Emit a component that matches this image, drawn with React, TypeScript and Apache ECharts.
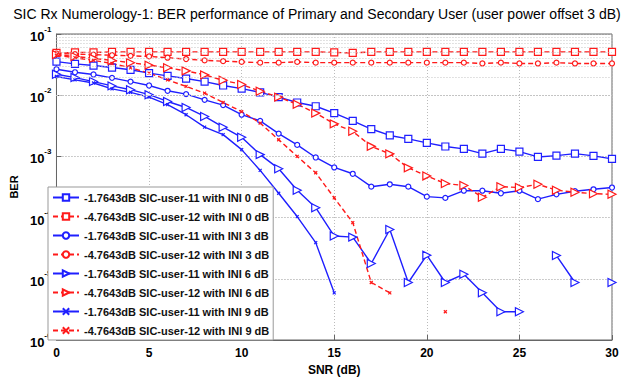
import React, { useEffect, useRef } from "react";
import * as echarts from "echarts";

const snr: number[] = Array.from({ length: 31 }, (_, i) => i);

const u11Ini0: (number | null)[] = [0.0354, 0.0325, 0.0305, 0.0283, 0.026, 0.0229, 0.0207, 0.0187, 0.0167, 0.0144, 0.0128, 0.0111, 0.0093, 0.0076, 0.0066, 0.0051, 0.0038, 0.0028, 0.0022, 0.00193, 0.00166, 0.00145, 0.00133, 0.00111, 0.00133, 0.0012, 0.00098, 0.00103, 0.00111, 0.00102, 0.00091];
const u12Ini0: (number | null)[] = [0.049, 0.05, 0.05, 0.051, 0.051, 0.051, 0.051, 0.051, 0.051, 0.051, 0.051, 0.051, 0.051, 0.051, 0.051, 0.05, 0.049, 0.051, 0.051, 0.051, 0.051, 0.051, 0.051, 0.051, 0.051, 0.051, 0.051, 0.051, 0.051, 0.051, 0.051];
const u11Ini3: (number | null)[] = [0.0266, 0.0237, 0.0218, 0.0192, 0.0167, 0.0144, 0.0118, 0.0104, 0.0084, 0.0069, 0.0048, 0.0038, 0.00236, 0.00154, 0.00096, 0.00066, 0.00052, 0.00032, 0.00035, 0.00032, 0.00022, 0.00021, 0.000275, 0.000275, 0.00025, 0.000275, 0.0002, 0.00024, 0.00027, 0.00029, 0.00031];
const u12Ini3: (number | null)[] = [0.048, 0.047, 0.046, 0.045, 0.044, 0.043, 0.041, 0.039, 0.037, 0.036, 0.035, 0.034, 0.034, 0.035, 0.034, 0.034, 0.034, 0.034, 0.034, 0.034, 0.034, 0.034, 0.034, 0.033, 0.034, 0.033, 0.033, 0.034, 0.033, 0.033, 0.033];
const u11Ini6: (number | null)[] = [0.022, 0.0194, 0.0167, 0.0142, 0.0123, 0.0102, 0.0079, 0.0063, 0.0045, 0.003, 0.00205, 0.00107, 0.00063, 0.00028, 0.000145, 5.0e-5, 4.8e-5, 1.78e-5, 6.4e-5, 8.7e-6, 2.43e-5, 8.7e-6, 1.19e-5, 5.9e-6, 2.9e-6, 2.9e-6, null, 2.4e-5, 8.7e-6, null, 8.7e-6];
const u12Ini6: (number | null)[] = [0.046, 0.043, 0.04, 0.037, 0.034, 0.031, 0.028, 0.025, 0.0215, 0.0175, 0.015, 0.0116, 0.0093, 0.0071, 0.0051, 0.0034, 0.00257, 0.00146, 0.0011, 0.00065, 0.00048, 0.00036, 0.000335, 0.000215, 0.00032, 0.00031, 0.00035, 0.00028, 0.00026, 0.000246, 0.00024];
const u11Ini9: (number | null)[] = [0.0202, 0.0178, 0.0158, 0.0127, 0.0111, 0.0093, 0.007, 0.0048, 0.003, 0.00227, 0.00129, 0.00059, 0.00025, 0.000104, 3.9e-5, 5.9e-6, null, null, null, null, null, null, null, null, null, null, null, null, null, null, null];
const u12Ini9: (number | null)[] = [0.045, 0.041, 0.037, 0.033, 0.028, 0.023, 0.0178, 0.0139, 0.0108, 0.0076, 0.0054, 0.0035, 0.00187, 0.001, 0.00054, 0.00021, 8.3e-5, 8.7e-6, 5.9e-6, null, null, 2.9e-6, null, null, null, null, null, null, null, null, null];

const seriesNames: string[] = [
  "-1.7643dB SIC-user-11 with INI 0 dB",
  "-4.7643dB SIC-user-12 with INI 0 dB",
  "-1.7643dB SIC-user-11 with INI 3 dB",
  "-4.7643dB SIC-user-12 with INI 3 dB",
  "-1.7643dB SIC-user-11 with INI 6 dB",
  "-4.7643dB SIC-user-12 with INI 6 dB",
  "-1.7643dB SIC-user-11 with INI 9 dB",
  "-4.7643dB SIC-user-12 with INI 9 dB",
];

const decades: number[] = [-6, -5, -4, -3, -2, -1];
const minorMultipliers: number[] = [2, 3, 4, 5, 6, 7, 8, 9];

const BLUE = "#1f1fff";
const RED = "#ff1a1a";
const FONT = "'Liberation Sans', sans-serif";

export default function App() {
  const ref = useRef<HTMLDivElement>(null);
  useEffect(() => {
    document.body.style.margin = "0";
    if (!ref.current) return;
    const chart = echarts.init(ref.current, null, { renderer: "svg" });
    const all = [u11Ini0, u12Ini0, u11Ini3, u12Ini3, u11Ini6, u12Ini6, u11Ini9, u12Ini9];
    const symbols = ["rect", "rect", "circle", "circle", "triangle", "triangle", "path://M0,0L10,10M10,0L0,10", "path://M0,0L10,10M10,0L0,10"];
    const sizes = [7, 7, 5, 5, 8, 8, 3, 3];
    const minorVals: number[] = [];
    decades.slice(0, 5).forEach((d) => {
      minorMultipliers.forEach((k) => minorVals.push(k * Math.pow(10, d)));
    });
    const series: any[] = [
      {
        type: "line",
        data: [[0, 1e-3]],
        symbol: "none",
        silent: true,
        lineStyle: { opacity: 0 },
        z: 1,
        markLine: {
          silent: true,
          symbol: "none",
          animation: false,
          label: { show: false },
          lineStyle: { color: "#c4c4c4", type: [1, 2], width: 1 },
          data: minorVals.map((v) => ({ yAxis: v })),
        },
      },
    ];
    all.forEach((arr, i) => {
      const isRed = i % 2 === 1;
      const color = isRed ? RED : BLUE;
      const isX = i >= 6;
      series.push({
        name: seriesNames[i],
        type: "line",
        data: snr.map((x, j) => [x, arr[j] == null ? null : arr[j]]),
        connectNulls: false,
        symbol: symbols[i],
        symbolSize: sizes[i],
        symbolRotate: i === 4 || i === 5 ? -90 : 0,
        showAllSymbol: true,
        lineStyle: { color, width: 1.4, type: isRed ? [5, 3] : "solid" },
        itemStyle: { color: isX ? color : "#fff", borderColor: color, borderWidth: 1.2 },
        z: 3,
      });
    });
    chart.setOption({
      animation: false,
      textStyle: { fontFamily: FONT },
      title: {
        text: "SIC Rx Numerology-1: BER performance of Primary and Secondary User (user power offset 3 dB)",
        left: "center",
        top: 2,
        textStyle: { fontSize: 14, fontWeight: "normal", color: "#000", fontFamily: FONT },
      },
      grid: { left: 45, right: 22, top: 34, bottom: 39, show: true, borderColor: "#666", borderWidth: 1 },
      legend: {
        orient: "vertical",
        left: 48,
        top: 187,
        itemGap: 8,
        itemWidth: 26,
        itemHeight: 8,
        padding: [5, 4, 4, 4],
        backgroundColor: "#fff",
        borderColor: "#999",
        borderWidth: 1,
        textStyle: { fontSize: 11, fontWeight: "bold", color: "#111", fontFamily: FONT },
        data: seriesNames,
      },
      xAxis: {
        type: "value",
        min: 0,
        max: 30,
        interval: 5,
        name: "SNR (dB)",
        nameLocation: "middle",
        nameGap: 24,
        nameTextStyle: { fontSize: 12, fontWeight: "bold", color: "#000" },
        axisLine: { show: true, lineStyle: { color: "#666" } },
        axisTick: { inside: true, lineStyle: { color: "#666" } },
        axisLabel: { fontSize: 12, fontWeight: "bold", color: "#000", margin: 7 },
        splitLine: { show: true, lineStyle: { color: "#bbb", type: [1, 2] } },
      },
      yAxis: {
        type: "log",
        logBase: 10,
        min: 1e-6,
        max: 1e-1,
        name: "BER",
        nameLocation: "middle",
        nameGap: 27,
        nameTextStyle: { fontSize: 11, fontWeight: "bold", color: "#000" },
        axisLine: { show: true, lineStyle: { color: "#666" } },
        axisTick: { inside: true, lineStyle: { color: "#666" } },
        axisLabel: {
          margin: 5,
          formatter: (v: number) => `{b|10}{e|${Math.round(Math.log10(v))}}`,
          rich: {
            b: { fontSize: 13, fontWeight: "bold", color: "#000", lineHeight: 18, verticalAlign: "bottom", fontFamily: FONT },
            e: { fontSize: 8, fontWeight: "bold", color: "#000", lineHeight: 8, verticalAlign: "top", fontFamily: FONT },
          },
        },
        splitLine: { show: true, lineStyle: { color: "#999", type: [1, 2] } },
      },
      series,
    });
    return () => chart.dispose();
  }, []);
  return <div ref={ref} style={{ width: 634, height: 381 }} />;
}
